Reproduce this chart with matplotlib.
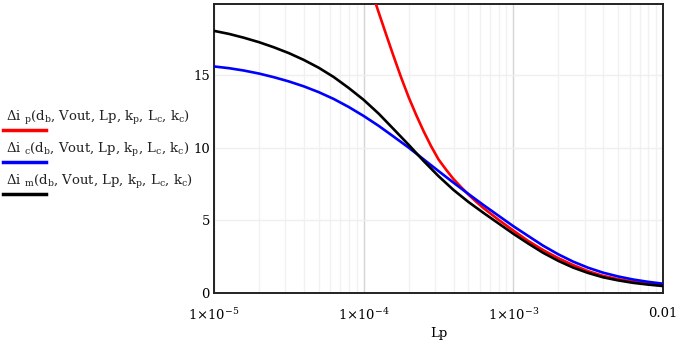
import numpy as np
import matplotlib
matplotlib.use("Agg")
import matplotlib.pyplot as plt
from matplotlib.lines import Line2D
from matplotlib.ticker import FixedLocator, LogLocator, NullFormatter

# Dades llegides del gràfic (Lp en escala log, cada 0.1 dècades)
LP_BC = [1.0e-5, 1.26e-5, 1.58e-5, 2.0e-5, 2.51e-5, 3.16e-5, 3.98e-5, 5.01e-5, 6.31e-5, 7.94e-5,
         1.0e-4, 1.26e-4, 1.58e-4, 2.0e-4, 2.51e-4, 3.16e-4, 3.98e-4, 5.01e-4, 6.31e-4, 7.94e-4,
         1.0e-3, 1.26e-3, 1.58e-3, 2.0e-3, 2.51e-3, 3.16e-3, 3.98e-3, 5.01e-3, 6.31e-3, 7.94e-3,
         1.0e-2]
DI_M = [18.05, 17.84, 17.58, 17.27, 16.92, 16.52, 16.05, 15.51, 14.87, 14.12,
        13.30, 12.35, 11.30, 10.20, 9.10, 8.05, 7.10, 6.27, 5.52, 4.80,
        4.08, 3.40, 2.77, 2.21, 1.75, 1.38, 1.08, 0.87, 0.70, 0.58,
        0.48]
DI_C = [15.60, 15.48, 15.32, 15.11, 14.86, 14.57, 14.23, 13.83, 13.36, 12.81,
        12.19, 11.51, 10.78, 10.01, 9.21, 8.40, 7.60, 6.82, 6.06, 5.33,
        4.60, 3.92, 3.26, 2.66, 2.16, 1.74, 1.40, 1.14, 0.93, 0.77,
        0.64]

LP_P = [1.202e-4, 1.259e-4, 1.413e-4, 1.585e-4, 1.778e-4, 1.995e-4, 2.239e-4, 2.512e-4,
        2.818e-4, 3.162e-4, 3.548e-4, 3.981e-4, 4.467e-4, 5.012e-4, 5.623e-4, 6.310e-4,
        7.943e-4, 1.0e-3, 1.259e-3, 1.585e-3, 1.995e-3, 2.512e-3, 3.162e-3, 3.981e-3,
        5.012e-3, 6.310e-3, 7.943e-3, 1.0e-2]
DI_P = [19.95, 19.33, 17.80, 16.30, 14.85, 13.50, 12.28, 11.15,
        10.12, 9.20, 8.50, 7.85, 7.30, 6.78, 6.30, 5.85,
        5.05, 4.30, 3.58, 2.95, 2.40, 1.92, 1.50, 1.18,
        0.95, 0.77, 0.63, 0.53]

X_TICKS = [1e-5, 1e-4, 1e-3, 1e-2]
X_LABELS = [r"1$\times$10$^{-5}$", r"1$\times$10$^{-4}$", r"1$\times$10$^{-3}$", "0.01"]
Y_TICKS = [0, 5, 10, 15]

LEGEND = [
    r"$\Delta$i $_{\mathrm{p}}$(d$_{\mathrm{b}}$, Vout, Lp, k$_{\mathrm{p}}$, L$_{\mathrm{c}}$, k$_{\mathrm{c}}$)",
    r"$\Delta$i $_{\mathrm{c}}$(d$_{\mathrm{b}}$, Vout, Lp, k$_{\mathrm{p}}$, L$_{\mathrm{c}}$, k$_{\mathrm{c}}$)",
    r"$\Delta$i $_{\mathrm{m}}$(d$_{\mathrm{b}}$, Vout, Lp, k$_{\mathrm{p}}$, L$_{\mathrm{c}}$, k$_{\mathrm{c}}$)",
]
COLORS = ["#ff0000", "#0000ff", "#000000"]

plt.rcParams["font.family"] = "DejaVu Serif"
plt.rcParams["mathtext.fontset"] = "dejavuserif"

fig = plt.figure(figsize=(6.85, 3.41), dpi=100)
ax = fig.add_axes([214 / 685, 1 - 293 / 341, 449 / 685, 289 / 341])

ax.plot(LP_P, DI_P, color=COLORS[0], lw=1.9, zorder=3)
ax.plot(LP_BC, DI_C, color=COLORS[1], lw=1.9, zorder=3)
ax.plot(LP_BC, DI_M, color=COLORS[2], lw=1.9, zorder=4)

ax.set_xscale("log")
ax.set_xlim(1e-5, 1e-2)
ax.set_ylim(0, 19.9)

ax.xaxis.set_major_locator(FixedLocator(X_TICKS))
ax.set_xticklabels(X_LABELS)
ax.xaxis.set_minor_locator(LogLocator(base=10, subs=np.arange(2, 10)))
ax.xaxis.set_minor_formatter(NullFormatter())
ax.set_yticks(Y_TICKS)

ax.grid(which="major", axis="x", color="#d4d4d4", lw=1.0)
ax.grid(which="minor", axis="x", color="#f1f1f1", lw=1.0)
ax.grid(which="major", axis="y", color="#efefef", lw=1.0)
ax.set_axisbelow(True)

ax.tick_params(axis="y", which="both", length=0, labelsize=9.5, pad=3)
ax.tick_params(axis="x", which="both", length=0, labelsize=9.5, pad=10)
for s in ax.spines.values():
    s.set_linewidth(1.4)
    s.set_color("#222222")

ax.set_xlabel("Lp", fontsize=9.5, labelpad=3)

# Llegenda a l'esquerra
for i, (txt, col) in enumerate(zip(LEGEND, COLORS)):
    y_line = 1 - (130 + 32 * i) / 341
    y_txt = 1 - (121 + 32 * i) / 341
    fig.add_artist(Line2D([3 / 685, 46 / 685], [y_line, y_line], color=col, lw=2.5))
    fig.text(6 / 685, y_txt, txt, fontsize=9.5, color="#222222", va="baseline", ha="left")

fig.savefig("out.png", dpi=100)
